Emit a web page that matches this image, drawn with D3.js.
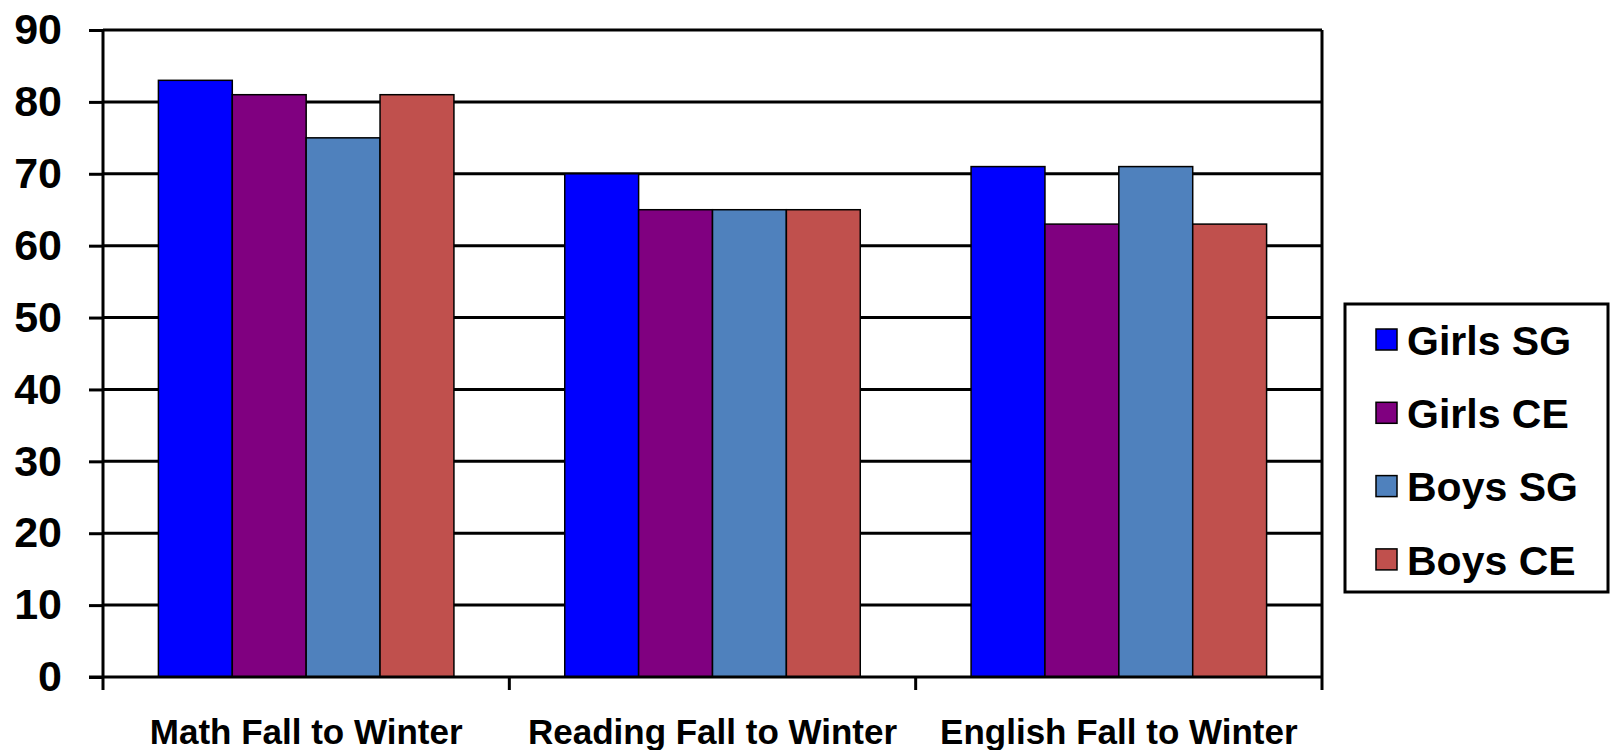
<!DOCTYPE html>
<html>
<head>
<meta charset="utf-8">
<script src="https://cdn.jsdelivr.net/npm/d3@7"></script>
<style>
  html, body { margin: 0; padding: 0; background: #fff; }
  svg { display: block; font-family: Arial, 'Liberation Sans', sans-serif; font-weight: bold; }
</style>
</head>
<body>
<svg id="chart" width="1610" height="750"></svg>
<script>
const categories = ['Math Fall to Winter', 'Reading Fall to Winter', 'English Fall to Winter'];
const series = ['Girls SG', 'Girls CE', 'Boys SG', 'Boys CE'];
const colors = ['#0000ff', '#800080', '#4f81bd', '#c0504d'];
const girlsSG = [83, 70, 71];
const girlsCE = [81, 65, 63];
const boysSG = [75, 65, 71];
const boysCE = [81, 65, 63];
const yTicks = [0, 10, 20, 30, 40, 50, 60, 70, 80, 90];

const values = [girlsSG, girlsCE, boysSG, boysCE];

const svg = d3.select('#chart');
const plotLeft = 103; const plotRight = 1322;
const plotTop = 30; const plotBottom = 677;

const y = d3.scaleLinear().domain([0, 90]).range([plotBottom, plotTop]);
const x = d3.scaleBand().domain(categories).range([plotLeft, plotRight]);
const bw = x.bandwidth();
// excel style gap width 150%
const barW = bw / 5.5;
const x1 = d3.scaleBand().domain(series).range([(bw - barW*4)/2, (bw + barW*4)/2]);

// gridlines
svg.append('g')
    .selectAll('line')
    .data(yTicks.filter((t)=>t > 0))
    .enter().append('line')
    .attr('x1', plotLeft).attr('x2', plotRight)
    .attr('y1', (d)=>y(d)).attr('y2', (d)=>y(d))
    .style('stroke', '#000').style('stroke-width', 3);

// bars
const group = svg.append('g')
    .selectAll('g')
    .data(categories)
    .enter().append('g')
    .attr('transform', (d)=>`translate(${x(d)},0)`);

group.selectAll('rect')
    .data((c, ci)=>series.map((s, si)=>({s: s, si: si, v: values[si][ci]})))
    .enter().append('rect')
    .attr('x', (d)=>x1(d.s))
    .attr('width', x1.bandwidth())
    .attr('y', (d)=>y(d.v))
    .attr('height', (d)=>y(0) - y(d.v))
    .style('fill', (d)=>colors[d.si])
    .style('stroke', '#000')
    .style('stroke-width', 1.5);

// y axis
const yAxis = svg.append('g')
    .attr('transform', `translate(${plotLeft},0)`)
    .call(d3.axisLeft(y).tickValues(yTicks).tickSize(14).tickPadding(27).tickFormat(d3.format('d')));
yAxis.select('.domain').attr('d', `M0,${plotTop}V${plotBottom+13}`).style('stroke-width', 3);
yAxis.selectAll('.tick line').style('stroke-width', 3);
yAxis.selectAll('text').style('font-size', '43px').style('fill', '#000');

// x axis
const xAxis = svg.append('g')
    .attr('transform', `translate(0,${plotBottom})`)
    .call(d3.axisBottom(x).tickSize(0).tickPadding(42));
xAxis.select('.domain').attr('d', `M${plotLeft-14},0H${plotRight}`).style('stroke-width', 3);
xAxis.selectAll('text').style('font-size', '35px').style('fill', '#000');

// category boundary ticks
xAxis.append('g')
    .selectAll('line')
    .data(categories.slice(1).map((c)=>x(c)).concat([plotRight]))
    .enter().append('line')
    .attr('x1', (d)=>d).attr('x2', (d)=>d)
    .attr('y1', 0).attr('y2', 13)
    .style('stroke', '#000').style('stroke-width', 3);

// right border of plot area
svg.append('line')
    .attr('x1', plotRight).attr('x2', plotRight)
    .attr('y1', plotTop).attr('y2', plotBottom)
    .style('stroke', '#000').style('stroke-width', 3);

// legend
const legend = svg.append('g').attr('transform', 'translate(1345,304)');
legend.append('rect')
    .attr('width', 263).attr('height', 288)
    .style('fill', '#fff').style('stroke', '#000').style('stroke-width', 3);

const item = legend.selectAll('g.item')
    .data(series)
    .enter().append('g')
    .attr('class', 'item')
    .attr('transform', (d, i)=>`translate(0,${36 + i*73.3})`);

item.append('rect')
    .attr('x', 31).attr('y', -11)
    .attr('width', 21).attr('height', 21)
    .style('fill', (d, i)=>colors[i])
    .style('stroke', '#000').style('stroke-width', 1.5);

item.append('text')
    .attr('x', 62).attr('dy', '0.36em')
    .style('font-size', '41px')
    .text((d)=>d);
</script>
</body>
</html>
